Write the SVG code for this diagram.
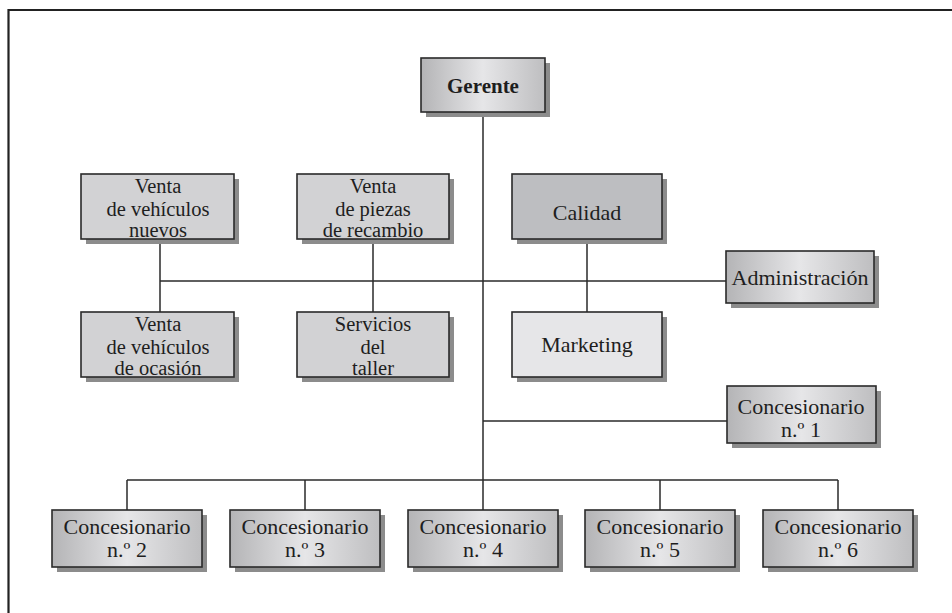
<svg xmlns="http://www.w3.org/2000/svg" width="952" height="613" viewBox="0 0 952 613">
  <defs>
    <linearGradient id="metal" x1="0" y1="0" x2="1" y2="0">
      <stop offset="0" stop-color="#b4b4b6"/>
      <stop offset="0.5" stop-color="#e6e6e8"/>
      <stop offset="1" stop-color="#bebec0"/>
    </linearGradient>
    <style>
      .shadow { fill: #8c8c8c; }
      .box { stroke: #2a2a2a; stroke-width: 1.6; }
      .metal { fill: url(#metal); }
      .mid { fill: #d2d2d4; }
      .dark { fill: #bdbec1; }
      .light { fill: #e6e6e8; }
      text { font-family: "Liberation Serif", "Times New Roman", serif; font-size: 22px; fill: #1e1e1e; text-anchor: middle; }
      .ml { font-size: 20.5px; }
      .bold { font-weight: bold; font-size: 21px; }
      .conn { stroke: #2a2a2a; stroke-width: 1.5; fill: none; }
      .frame { stroke: #222; stroke-width: 2.2; fill: none; }
    </style>
  </defs>

  <rect width="952" height="613" fill="#ffffff"/>
  <!-- page frame: top and left rule only -->
  <path class="frame" d="M8.5,613 V10 H952"/>

  <!-- connectors -->
  <g id="connectors">
    <path class="conn" d="M483,112 V480"/>
    <path class="conn" d="M160,281 H726"/>
    <path class="conn" d="M160,238 V312"/>
    <path class="conn" d="M373,238 V312"/>
    <path class="conn" d="M587,238 V312"/>
    <path class="conn" d="M483,421 H727"/>
    <path class="conn" d="M127,480 H838"/>
    <path class="conn" d="M127,480 V510"/>
    <path class="conn" d="M305,480 V510"/>
    <path class="conn" d="M483,480 V510"/>
    <path class="conn" d="M660,480 V510"/>
    <path class="conn" d="M838,480 V510"/>
  </g>

  <g id="gerente">
    <rect class="shadow" x="426" y="63" width="124" height="54"/>
    <rect class="box metal" x="421" y="58" width="124" height="54"/>
    <text class="bold" x="483" y="93">Gerente</text>
  </g>

  <g id="venta-nuevos">
    <rect class="shadow" x="86" y="179" width="153" height="65"/>
    <rect class="box mid" x="81" y="174" width="153" height="65"/>
    <text class="ml" x="158" y="193">Venta</text>
    <text class="ml" x="158" y="215.5">de vehículos</text>
    <text class="ml" x="158" y="237">nuevos</text>
  </g>

  <g id="venta-piezas">
    <rect class="shadow" x="302" y="179" width="152" height="65"/>
    <rect class="box mid" x="297" y="174" width="152" height="65"/>
    <text class="ml" x="373" y="193">Venta</text>
    <text class="ml" x="373" y="215.5">de piezas</text>
    <text class="ml" x="373" y="237">de recambio</text>
  </g>

  <g id="calidad">
    <rect class="shadow" x="517" y="179" width="150" height="65"/>
    <rect class="box dark" x="512" y="174" width="150" height="65"/>
    <text x="587" y="220">Calidad</text>
  </g>

  <g id="administracion">
    <rect class="shadow" x="731" y="256" width="148" height="52"/>
    <rect class="box metal" x="726" y="251" width="148" height="52"/>
    <text x="800" y="285">Administración</text>
  </g>

  <g id="venta-ocasion">
    <rect class="shadow" x="86" y="317" width="153" height="65"/>
    <rect class="box mid" x="81" y="312" width="153" height="65"/>
    <text class="ml" x="158" y="331">Venta</text>
    <text class="ml" x="158" y="353.5">de vehículos</text>
    <text class="ml" x="158" y="375">de ocasión</text>
  </g>

  <g id="servicios-taller">
    <rect class="shadow" x="302" y="317" width="152" height="65"/>
    <rect class="box mid" x="297" y="312" width="152" height="65"/>
    <text class="ml" x="373" y="331">Servicios</text>
    <text class="ml" x="373" y="353.5">del</text>
    <text class="ml" x="373" y="375">taller</text>
  </g>

  <g id="marketing">
    <rect class="shadow" x="517" y="317" width="150" height="65"/>
    <rect class="box light" x="512" y="312" width="150" height="65"/>
    <text x="587" y="352">Marketing</text>
  </g>

  <g id="concesionario-1">
    <rect class="shadow" x="732" y="391" width="149" height="57"/>
    <rect class="box metal" x="727" y="386" width="149" height="57"/>
    <text x="801" y="414">Concesionario</text>
    <text x="801" y="437">n.º 1</text>
  </g>

  <g id="concesionario-2">
    <rect class="shadow" x="57" y="515" width="150" height="57"/>
    <rect class="box metal" x="52" y="510" width="150" height="57"/>
    <text x="127" y="534">Concesionario</text>
    <text x="127" y="557">n.º 2</text>
  </g>

  <g id="concesionario-3">
    <rect class="shadow" x="235" y="515" width="150" height="57"/>
    <rect class="box metal" x="230" y="510" width="150" height="57"/>
    <text x="305" y="534">Concesionario</text>
    <text x="305" y="557">n.º 3</text>
  </g>

  <g id="concesionario-4">
    <rect class="shadow" x="413" y="515" width="150" height="57"/>
    <rect class="box metal" x="408" y="510" width="150" height="57"/>
    <text x="483" y="534">Concesionario</text>
    <text x="483" y="557">n.º 4</text>
  </g>

  <g id="concesionario-5">
    <rect class="shadow" x="590" y="515" width="150" height="57"/>
    <rect class="box metal" x="585" y="510" width="150" height="57"/>
    <text x="660" y="534">Concesionario</text>
    <text x="660" y="557">n.º 5</text>
  </g>

  <g id="concesionario-6">
    <rect class="shadow" x="768" y="515" width="150" height="57"/>
    <rect class="box metal" x="763" y="510" width="150" height="57"/>
    <text x="838" y="534">Concesionario</text>
    <text x="838" y="557">n.º 6</text>
  </g>
</svg>
